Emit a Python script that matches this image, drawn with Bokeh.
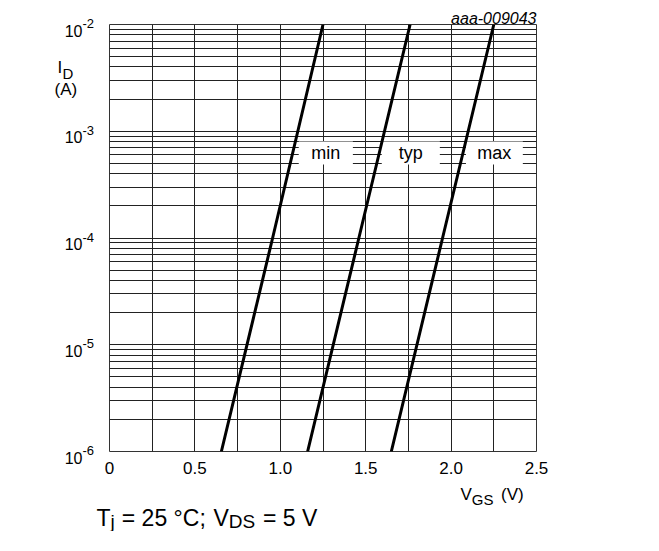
from bokeh.plotting import figure
from bokeh.models import Range1d, FixedTicker
from bokeh.core.properties import value
from bokeh.embed import file_html
from bokeh.resources import INLINE

# ---- data ----
id_amps = [1e-6, 1e-4, 1e-2]
vgs_min = [0.655, 0.955, 1.25]
vgs_typ = [1.16, 1.46, 1.76]
vgs_max = [1.65, 1.95, 2.25]
curve_names = ["min", "typ", "max"]
x_tick_values = [0.0, 0.5, 1.0, 1.5, 2.0, 2.5]
x_tick_labels = ["0", "0.5", "1.0", "1.5", "2.0", "2.5"]
y_decades = [-6, -5, -4, -3, -2]

FONT = "Liberation Sans"

p = figure(width=643, height=531,
           x_range=Range1d(0, 2.5), y_range=Range1d(1e-6, 1e-2),
           y_axis_type="log", output_backend="svg", toolbar_location=None,
           min_border_left=109, min_border_right=107,
           min_border_top=24, min_border_bottom=80)
p.background_fill_color = "white"
p.border_fill_color = "white"
p.outline_line_color = "#333333"
p.outline_line_width = 1

# grid
p.xgrid.ticker = FixedTicker(ticks=[i * 0.25 for i in range(11)])
p.ygrid.ticker = FixedTicker(ticks=[m * 10.0 ** d for d in y_decades[:-1] for m in range(1, 10)] + [1e-2])
for g in (p.xgrid, p.ygrid):
    g.grid_line_color = "#222222"
    g.grid_line_width = 1
    g.grid_line_alpha = 1.0

# axes
p.yaxis.visible = False
xa = p.xaxis[0]
xa.ticker = FixedTicker(ticks=x_tick_values)
xa.major_label_overrides = {v: l for v, l in zip(x_tick_values, x_tick_labels)}
xa.axis_line_color = None
xa.major_tick_line_color = None
xa.minor_tick_line_color = None
xa.major_tick_out = 0
xa.major_label_standoff = 10
xa.major_label_text_font = FONT
xa.major_label_text_font_size = "17px"
xa.major_label_text_color = "black"

# label boxes (white) over the grid
box_left = [1.108, 1.594, 2.087]
box_right = [1.425, 1.934, 2.420]
p.quad(left=box_left, right=box_right,
       top=[10 ** -3.096] * 3, bottom=[10 ** -3.311] * 3,
       fill_color="white", line_color=None)
p.text(x=[1.266, 1.764, 2.253], y=[10 ** -3.2] * 3, text=curve_names,
       text_align="center", text_baseline="middle",
       text_font=value(FONT), text_font_size="18px", text_color="black")

# curves
for vg in (vgs_min, vgs_typ, vgs_max):
    p.line(vg, id_amps, line_width=3, line_color="black")


def txt(texts, xs, ys, dx, dy, size="17px", align="left", style="normal"):
    # dy: screen pixels upwards
    p.text(x=xs, y=ys, text=texts, x_offset=dx, y_offset=-dy,
           text_align=align, text_baseline="alphabetic",
           text_font=value(FONT), text_font_size=size,
           text_font_style=style, text_color="black", level="overlay")


# y tick labels 10^n
decade_vals = [10.0 ** d for d in y_decades]
txt(["10"] * len(y_decades), [0] * len(y_decades), decade_vals, -27, -6, size="16px", align="right")
txt([str(d) for d in y_decades], [0] * len(y_decades), decade_vals, -27, 1, size="13px")

# y axis title I_D (A)
txt(["I"], [0], [1e-2], -52, -43)
txt(["D"], [0], [1e-2], -47, -48.5, size="15px")
txt(["(A)"], [0], [1e-2], -55, -64.5)

# x axis title V_GS (V)
txt(["V"], [2.5], [1e-6], -76, -42.7)
txt(["GS"], [2.5], [1e-6], -64.7, -47.7, size="15px")
txt(["(V)"], [2.5], [1e-6], -35.5, -42.7)

# figure id
txt(["aaa-009043"], [2.5], [1e-2], 0, 6, size="16px", align="right", style="italic")

# condition note  (T_j = 25 °C; V_DS = 5 V)
txt(["T"], [0], [1e-6], -13, -66, size="23px")
txt(["j"], [0], [1e-6], 1, -69.5, size="19px")
txt(["= 25 \u00b0C;"], [0], [1e-6], 12.3, -66, size="23px")
txt(["V"], [0], [1e-6], 104, -66, size="23px")
txt(["DS"], [0], [1e-6], 119.3, -69.5, size="19px")
txt(["= 5 V"], [0], [1e-6], 153.5, -66, size="23px")

open("out.html", "w").write(file_html(p, INLINE))
